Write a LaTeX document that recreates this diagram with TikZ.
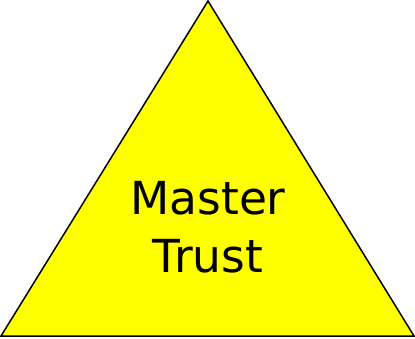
\documentclass[tikz,border=0pt]{standalone}
\usepackage{fontspec}
\setmainfont{DejaVu Sans}
\definecolor{triyellow}{RGB}{255,255,0}
\begin{document}
\begin{tikzpicture}[x=1pt,y=1pt,
  tri/.style={fill=triyellow, draw=black, line width=1.5pt, line join=miter},
  label/.style={align=center, font=\fontsize{45.5}{58}\selectfont, inner sep=0pt}]
\useasboundingbox (0,0) rectangle (415,338);
\coordinate (apex) at (208,337);
\coordinate (bl) at (1,2);
\coordinate (br) at (414,2);
\draw[tri] (apex) -- (br) -- (bl) -- cycle;
\node[label] (t) at (208,110.5) {Master\\Trust};
\end{tikzpicture}
\end{document}
